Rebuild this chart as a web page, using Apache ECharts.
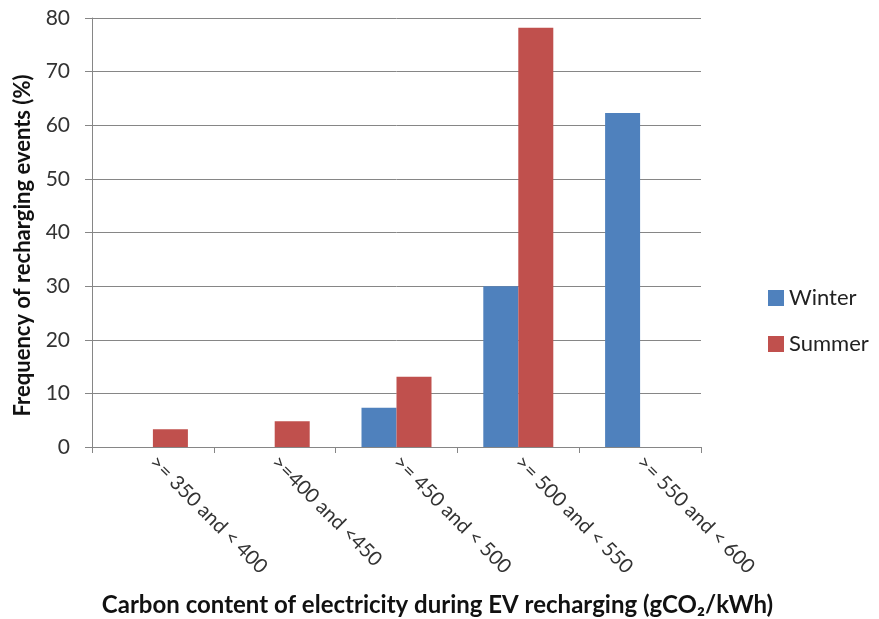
<!DOCTYPE html>
<html>
<head>
<meta charset="utf-8">
<script src="https://cdn.jsdelivr.net/npm/echarts@6/dist/echarts.min.js"></script>
<style>
  html, body { margin: 0; padding: 0; background: #fff; }
  #chart { width: 879px; height: 619px; }
</style>
</head>
<body>
<div id="chart"></div>
<script>
var categories = [">= 350 and < 400", ">=400 and <450", ">= 450 and < 500", ">= 500 and < 550", ">= 550 and < 600"];
var winter = [0, 0, 7.3, 30.0, 62.3];
var summer = [3.3, 4.8, 13.1, 78.2, 0];
var yTicks = { min: 0, max: 80, interval: 10 };

var myChart = echarts.init(document.getElementById('chart'));
var font = 'Lato, "Open Sans", sans-serif';

var option = {
    backgroundColor: '#ffffff',
    animation: false,
    textStyle: { fontFamily: font },
    grid: { left: 92, right: 178, top: 18, bottom: 172, outerBoundsMode: 'none', containLabel: false },
    legend: {
        orient: 'vertical',
        left: 763,
        top: 282,
        itemWidth: 16,
        itemHeight: 16,
        itemGap: 24,
        icon: 'rect',
        textStyle: { fontSize: 22, color: '#222', fontFamily: font },
        data: ['Winter', 'Summer']
    },
    xAxis: {
        type: 'category',
        data: categories,
        name: 'Carbon content of electricity during EV recharging (gCO\u2082/kWh)',
        nameLocation: 'middle',
        nameGap: 146,
        nameTextStyle: { fontSize: 24, fontWeight: 'bold', color: '#111', fontFamily: font, padding: [0, 0, 0, 82] },
        axisLine: { lineStyle: { color: '#868686' } },
        axisTick: { show: true, length: 6, lineStyle: { color: '#868686' } },
        axisLabel: {
            interval: 0,
            rotate: -45,
            margin: 12,
            fontSize: 20,
            color: '#333',
            fontFamily: font
        }
    },
    yAxis: {
        type: 'value',
        min: yTicks.min,
        max: yTicks.max,
        interval: yTicks.interval,
        name: 'Frequency of recharging events (%)',
        nameLocation: 'middle',
        nameGap: 58,
        nameTextStyle: { fontSize: 22, fontWeight: 'bold', color: '#111', fontFamily: font, padding: [0, 26, 0, 0] },
        axisLine: { show: true, lineStyle: { color: '#868686' } },
        axisTick: { show: true, length: 7, lineStyle: { color: '#868686' } },
        axisLabel: { margin: 22, fontSize: 21, color: '#333', fontFamily: font },
        splitLine: { lineStyle: { color: '#868686', width: 1 } }
    },
    series: [{
        name: 'Winter',
        type: 'bar',
        barWidth: 35,
        barGap: '0%',
        itemStyle: { color: '#4F81BD' },
        data: winter
    }, {
        name: 'Summer',
        type: 'bar',
        barWidth: 35,
        barGap: '0%',
        itemStyle: { color: '#C0504D' },
        data: summer
    }]
};

myChart.setOption(option);
</script>
</body>
</html>
